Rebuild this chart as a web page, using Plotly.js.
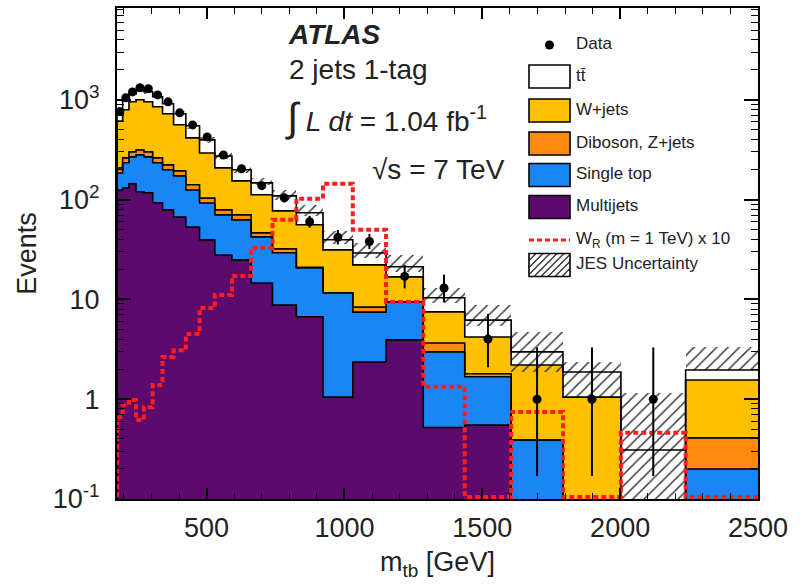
<!DOCTYPE html>
<html>
<head>
<meta charset="utf-8">
<script src="https://cdn.plot.ly/plotly-3.0.1.min.js"></script>
<style>
  html, body { margin: 0; padding: 0; background: #fff; }
  #chart { width: 805px; height: 585px; }
</style>
</head>
<body>
<div id="chart"></div>
<script>
// m_tb bin edges [GeV] (logarithmic binning)
const binEdges = [175, 195.5, 218.4, 244.0, 272.6, 304.5, 340.2, 380.1, 424.6, 474.4, 529.9, 592.0,
                  661.4, 738.9, 825.5, 922.2, 1030.2, 1150.9, 1285.8, 1436.4, 1604.7, 1792.7, 2002.8, 2237.5, 2500];

// Expected events per bin, by background
const multijets    = [125, 131, 144, 120, 117, 93, 79, 67, 53, 39.5, 27.9, 24.9, 14.6, 8.8, 6.7, 1.05, 2.36, 3.93, 0.52, 0.55, 0, 0, 0, 0];
const singleTop    = [60, 103, 124, 161, 151, 141, 120, 106, 72, 53, 42.4, 37.8, 27.7, 20.5, 14.0, 10.6, 5.1, 5.5, 2.46, 1.13, 0.39, 0, 0, 0.2];
const dibosonZjets = [23, 28, 33, 34, 33, 28, 24, 21, 16, 11, 8.6, 7.6, 4.1, 2.8, 0.3, 0, 0.9, 0, 0.68, 0.12, 0, 0, 0, 0.21];
const wJets        = [406, 532, 654, 685, 654, 589, 501, 368, 275, 190, 129, 83.7, 65.6, 45, 35, 19.7, 13.8, 7.4, 3.84, 2.4, 1.81, 1.05, 0, 1.15];
const ttbar        = [180, 206, 193, 231, 248, 221, 188, 162, 133, 103, 66, 45, 35, 32, 17.8, 8.2, 7.0, 4.4, 2.9, 2.0, 0.78, 0.82, 0.31, 0.40];

// Observed events and their (asymmetric) statistical errors
const dataCounts  = [760, 1050, 1200, 1320, 1290, 1120, 955, 740, 560, 425, 280, 204, 138, 104, 60, 42, 38, 17, 13, 4, 1, 1, 1, 0];
const dataErrUp   = [28.1, 32.9, 35.1, 36.8, 36.4, 34.0, 31.4, 27.7, 24.2, 21.1, 17.7, 15.3, 12.8, 11.2, 8.8, 7.6, 7.2, 5.2, 4.7, 3.16, 2.30, 2.30, 2.30, 0];
const dataErrDown = [27.6, 32.4, 34.6, 36.3, 35.9, 33.5, 30.9, 27.2, 23.7, 20.6, 16.7, 14.3, 11.7, 10.2, 7.7, 6.5, 6.1, 4.1, 3.6, 1.91, 0.83, 0.83, 0.83, 0];

// W'_R signal (m = 1 TeV), scaled by 10
const wprimeX10 = [0.66, 0.87, 0.98, 0.62, 0.83, 1.39, 2.65, 3.1, 4.5, 8.2, 11.1, 17.2, 32.8, 62.7, 102, 144, 49.8, 9.4, 1.33, 0, 0.745, 0, 0.46, 0];

// JES uncertainty envelope on the total expectation
const jesUp   = [840, 1055, 1210, 1300, 1270, 1130, 965, 768, 585, 425, 296, 216, 165, 125, 88.5, 48.7, 36.8, 27.9, 13.0, 8.8, 4.7, 2.36, 1.15, 3.34];
const jesDown = [750, 945, 1090, 1165, 1140, 1015, 865, 685, 515, 370, 255, 183, 140, 100, 68, 36, 26, 19, 9.3, 5.4, 1.87, 1.05, 0.05, 1.96];

const yTickVals = [0.1, 1, 10, 100, 1000];
const yTickText = ['10<sup>-1</sup>', '1', '10', '10<sup>2</sup>', '10<sup>3</sup>'];

// ---------------------------------------------------------------
const FONT = '"Liberation Sans", Arial, sans-serif';
const COL = {
  multijets: '#5c0a6e',
  singleTop: '#1a86f5',
  diboson:   '#ff8a10',
  wjets:     '#ffc000',
  ttbar:     '#ffffff',
  signal:    '#ff1e1e'
};
const FLOOR = 1e-3;          // empty bins are pushed below the axis range
const SIGNAL_FLOOR = 0.105;  // empty signal bins run along the bottom edge
const disp = v => (v > 0 ? v : FLOOR);
const X_RANGE = [175, 2500];
const Y_RANGE = [-1, 3.92];  // log10

const nb = binEdges.length - 1;
const centers = [], widths = [];
for (let i = 0; i < nb; i++) {
  centers.push((binEdges[i] + binEdges[i + 1]) / 2);
  widths.push(binEdges[i + 1] - binEdges[i]);
}

// Cumulative stack, bottom to top
const layers = [multijets, singleTop, dibosonZjets, wJets, ttbar];
const layerColors = [COL.multijets, COL.singleTop, COL.diboson, COL.wjets, COL.ttbar];
const cum = [];
let run = new Array(nb).fill(0);
layers.forEach(arr => {
  run = run.map((r, i) => r + arr[i]);
  cum.push(run.slice());
});

function stepTrace(vals, floor, line) {
  const xs = [binEdges[0]].concat(binEdges);
  const ys = [floor].concat(vals.map(v => (v > 0 ? v : floor))).concat([vals[nb - 1] > 0 ? vals[nb - 1] : floor]);
  return { type: 'scatter', mode: 'lines', x: xs, y: ys, line: Object.assign({ shape: 'hv' }, line),
           hoverinfo: 'skip', showlegend: false };
}

const traces = [];

// Filled stack: draw the tallest cumulative first, the others on top of it
for (let k = layers.length - 1; k >= 0; k--) {
  traces.push({
    type: 'bar', x: centers, y: cum[k].map(disp), width: widths,
    marker: { color: layerColors[k], line: { width: 0 } },
    hoverinfo: 'skip', showlegend: false
  });
}

// JES hatched band
traces.push({
  type: 'bar', x: centers, width: widths,
  base: jesDown, y: jesUp.map((u, i) => u - jesDown[i]),
  marker: {
    color: 'rgba(0,0,0,0)', line: { width: 0 },
    pattern: { shape: '/', fillmode: 'overlay', fgcolor: '#303030', fgopacity: 1, size: 8, solidity: 0.18 }
  },
  hoverinfo: 'skip', showlegend: false
});

// Black outlines of each stack boundary
for (let k = 0; k < layers.length; k++) {
  traces.push(stepTrace(cum[k], FLOOR, { color: '#000', width: 1.6 }));
}

// Signal
traces.push(stepTrace(wprimeX10, SIGNAL_FLOOR, { color: COL.signal, width: 4, dash: '5px,3px' }));

// Data
traces.push({
  type: 'scatter', mode: 'markers', x: centers,
  y: dataCounts.map(v => (v > 0 ? v : null)),
  marker: { color: '#000', size: 9, symbol: 'circle' },
  error_y: { type: 'data', symmetric: false, array: dataErrUp, arrayminus: dataErrDown,
             color: '#000', thickness: 2, width: 0 },
  hoverinfo: 'skip', showlegend: false
});

// ---------------------------------------------------------------
// Pixel <-> paper / data helpers for the header and the legend block
const M = { l: 117, r: 47, t: 8, b: 86 };
const W = 805, H = 585;
const PL = M.l, PR = W - M.r, PT = M.t, PB = H - M.b;
const px = x => (x - PL) / (PR - PL);
const py = y => (PB - y) / (PB - PT);
const dx = x => X_RANGE[0] + px(x) * (X_RANGE[1] - X_RANGE[0]);
const dy = y => Math.pow(10, Y_RANGE[0] + py(y) * (Y_RANGE[1] - Y_RANGE[0]));

const shapes = [];

// Header labels
const header = [
  { text: '<b><i>ATLAS</i></b>', x: 289, y: 37 },
  { text: '2 jets 1-tag', x: 289, y: 72 },
  { text: '<span style="font-size:40px">∫</span> <i>L dt</i> = 1.04 fb<sup>-1</sup>', x: 287, y: 124 },
  { text: '√s = 7 TeV', x: 372, y: 172 }
];
traces.push({
  type: 'scatter', mode: 'text',
  x: header.map(h => dx(h.x)), y: header.map(h => dy(h.y)),
  text: header.map(h => h.text), textposition: 'middle right',
  textfont: { family: FONT, size: 28, color: '#222' },
  hoverinfo: 'skip', showlegend: false, cliponaxis: false
});

// Legend
const legendRows = [
  { label: 'Data', kind: 'dot', y: 45 },
  { label: 'tt\u0304', kind: 'box', color: COL.ttbar, y: 76.5 },
  { label: 'W+jets', kind: 'box', color: COL.wjets, y: 110.5 },
  { label: 'Diboson, Z+jets', kind: 'box', color: COL.diboson, y: 143.5 },
  { label: 'Single top', kind: 'box', color: COL.singleTop, y: 175 },
  { label: 'Multijets', kind: 'box', color: COL.multijets, y: 207 },
  { label: 'W<sub>R</sub> (m = 1 TeV) x 10', kind: 'line', y: 240 },
  { label: 'JES Uncertainty', kind: 'hatch', y: 265 }
];
const BX0 = 529, BX1 = 570, BH = 23, TX = 576;
legendRows.forEach(r => {
  const y0 = r.y - BH / 2, y1 = r.y + BH / 2;
  if (r.kind === 'dot') {
    shapes.push({ type: 'circle', xref: 'paper', yref: 'paper',
      x0: px(549.5 - 4.5), x1: px(549.5 + 4.5), y0: py(r.y + 4.5), y1: py(r.y - 4.5),
      fillcolor: '#000', line: { width: 0 } });
  } else if (r.kind === 'box') {
    shapes.push({ type: 'rect', xref: 'paper', yref: 'paper',
      x0: px(BX0), x1: px(BX1), y0: py(y1), y1: py(y0),
      fillcolor: r.color, line: { color: '#000', width: 1.6 } });
  } else if (r.kind === 'line') {
    shapes.push({ type: 'line', xref: 'paper', yref: 'paper',
      x0: px(BX0), x1: px(BX1), y0: py(r.y), y1: py(r.y),
      line: { color: COL.signal, width: 3, dash: '5px,3px' } });
  } else if (r.kind === 'hatch') {
    let d = '';
    const step = 7;
    for (let c = BX0 + y0; c <= BX1 + y1 + step; c += step) {
      const xa = Math.max(BX0, c - y1), xb = Math.min(BX1, c - y0);
      if (xb <= xa) continue;
      d += `M${px(xa)},${py(c - xa)}L${px(xb)},${py(c - xb)}`;
    }
    shapes.push({ type: 'path', xref: 'paper', yref: 'paper', path: d,
      line: { color: '#303030', width: 1.3 } });
    shapes.push({ type: 'rect', xref: 'paper', yref: 'paper',
      x0: px(BX0), x1: px(BX1), y0: py(y1), y1: py(y0),
      fillcolor: 'rgba(0,0,0,0)', line: { color: '#000', width: 1.6 } });
  }
});
traces.push({
  type: 'scatter', mode: 'text',
  x: legendRows.map(() => dx(TX)), y: legendRows.map(r => dy(r.y)),
  text: legendRows.map(r => r.label), textposition: 'middle right',
  textfont: { family: FONT, size: 17, color: '#222' },
  hoverinfo: 'skip', showlegend: false, cliponaxis: false
});

const axisCommon = {
  showline: true, linecolor: '#000', linewidth: 2, mirror: 'allticks',
  ticks: 'inside', tickcolor: '#000', tickwidth: 1.5,
  showgrid: false, zeroline: false,
  tickfont: { family: FONT, size: 27, color: '#222' }
};

const layout = {
  width: W, height: H,
  margin: M,
  paper_bgcolor: '#fff', plot_bgcolor: '#fff',
  barmode: 'overlay', bargap: 0,
  showlegend: false,
  font: { family: FONT, size: 17, color: '#222' },
  xaxis: Object.assign({}, axisCommon, {
    type: 'linear', range: X_RANGE,
    tickmode: 'linear', tick0: 0, dtick: 500, ticklen: 11,
    ticklabelstandoff: 4,
    minor: { ticks: 'inside', ticklen: 6, dtick: 100, tick0: 0, tickcolor: '#000', tickwidth: 1.2, showgrid: false },
    title: { text: 'm<sub>tb</sub> [GeV]', font: { family: FONT, size: 27, color: '#222' }, standoff: 10 }
  }),
  yaxis: Object.assign({}, axisCommon, {
    type: 'log', range: Y_RANGE,
    tickmode: 'array', tickvals: yTickVals, ticktext: yTickText, ticklen: 14,
    ticklabelstandoff: 10,
    minor: { ticks: 'inside', ticklen: 7, dtick: 'D1', tickcolor: '#000', tickwidth: 1.2, showgrid: false },
    title: { text: 'Events', font: { family: FONT, size: 27, color: '#222' }, standoff: 8 }
  }),
  shapes: shapes
};

Plotly.newPlot('chart', traces, layout, { displayModeBar: false });
</script>
</body>
</html>
